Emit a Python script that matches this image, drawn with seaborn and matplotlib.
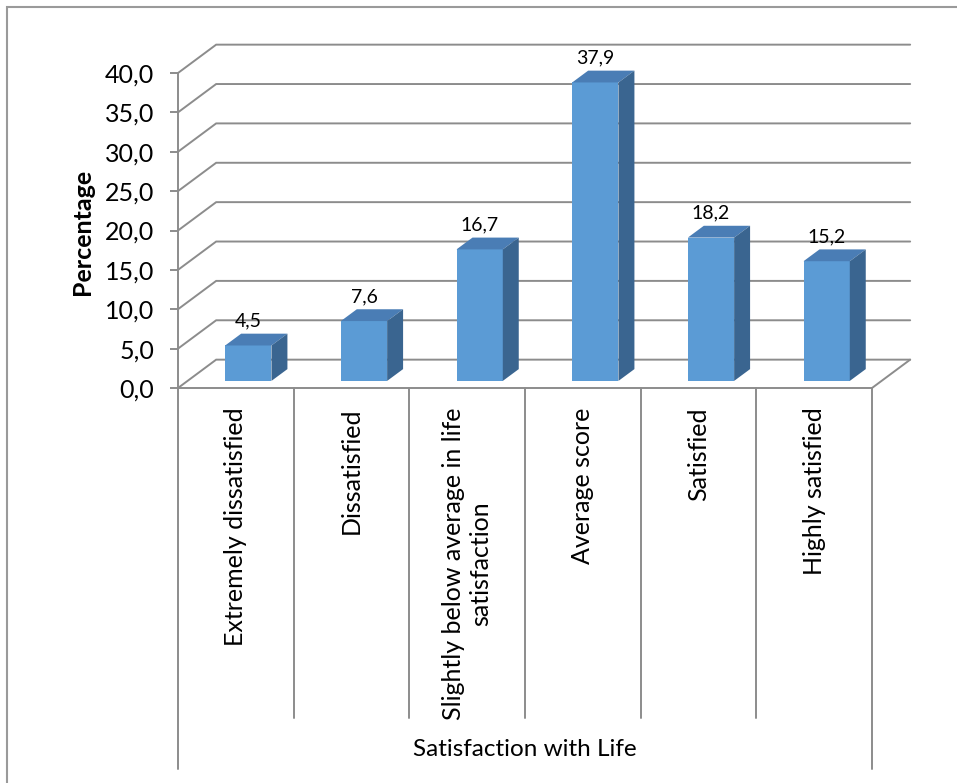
import numpy as np
import matplotlib
matplotlib.use("Agg")
import matplotlib.pyplot as plt
from matplotlib.patches import Polygon, Rectangle
import seaborn as sns

# Survey results: distribution of life-satisfaction levels (%)
categories = [
    "Extremely dissatisfied",
    "Dissatisfied",
    "Slightly below average in life\nsatisfaction",
    "Average score",
    "Satisfied",
    "Highly satisfied",
]
values = [4.5, 7.6, 16.7, 37.9, 18.2, 15.2]
y_ticks = [0, 5, 10, 15, 20, 25, 30, 35, 40]

sns.set_theme(style="white")
plt.rcParams["font.family"] = ["Lato", "DejaVu Sans"]

W, H = 957, 783
fig = plt.figure(figsize=(W / 100, H / 100), dpi=100)
ax = fig.add_axes([178 / W, (H - 388) / H, 694 / W, 315 / H])

FRONT = "#5B9BD5"
TOP = "#4A7DB5"
SIDE = "#3A6590"
GRID = "#8C8C8C"

# depth of the back wall (category units, value units)
DX, DY = 0.33, 3.6
# front face of the columns sits a little behind the front edge
BX, BY = 0.108, 0.9
# depth of each column
CDX, CDY = 0.138, 1.5

# back-wall gridlines with their diagonal on the side wall
for v in y_ticks:
    ax.plot([-0.5, -0.5 + DX, 5.5 + DX], [v, v + DY, v + DY],
            color=GRID, lw=1.4, zorder=1, clip_on=False,
            solid_joinstyle="miter")
# right edge of the floor
ax.plot([5.5, 5.5 + DX], [0, DY], color=GRID, lw=1.4, zorder=1, clip_on=False)

sns.barplot(x=categories, y=values, color=FRONT, width=0.4, saturation=1,
            ax=ax, zorder=3, edgecolor="none")

bars = ax.containers[0]
for p in bars.patches:
    p.set_x(p.get_x() + BX)
    p.set_y(BY)
    x0, y0, w, h = p.get_x(), p.get_y(), p.get_width(), p.get_height()
    top = Polygon([(x0, y0 + h), (x0 + w, y0 + h),
                   (x0 + w + CDX, y0 + h + CDY), (x0 + CDX, y0 + h + CDY)],
                  closed=True, facecolor=TOP, edgecolor="none", zorder=3,
                  clip_on=False)
    side = Polygon([(x0 + w, y0), (x0 + w + CDX, y0 + CDY),
                    (x0 + w + CDX, y0 + h + CDY), (x0 + w, y0 + h)],
                   closed=True, facecolor=SIDE, edgecolor="none", zorder=3,
                   clip_on=False)
    ax.add_patch(top)
    ax.add_patch(side)

ax.bar_label(bars, labels=[f"{v:.1f}".replace(".", ",") for v in values],
             padding=11.5, fontsize=14, color="black")

ax.set_xlim(-0.5, 5.5)
ax.set_ylim(0, 40)
ax.set_yticks(y_ticks)
ax.set_yticklabels([f"{v:.1f}".replace(".", ",") for v in y_ticks])

for s in ["top", "right"]:
    ax.spines[s].set_visible(False)
for s in ["left", "bottom"]:
    ax.spines[s].set_color(GRID)
    ax.spines[s].set_linewidth(1.4)

ax.tick_params(axis="y", left=True, length=6, width=1.4, color=GRID,
               labelsize=18, pad=11, labelcolor="black")
ax.tick_params(axis="x", bottom=False, labelsize=18, pad=8,
               labelcolor="black")
for lab in ax.get_xticklabels():
    lab.set_rotation(90)
    lab.set_ha("center")
    lab.set_va("top")
    lab.set_multialignment("center")

# category dividers below the floor
trans = ax.get_xaxis_transform()
for k in range(7):
    x = -0.5 + k
    yend = -1.21 if k in (0, 6) else -1.048
    ax.plot([x, x], [0, yend], color=GRID, lw=1.4, transform=trans,
            clip_on=False)

ax.set_xlabel("Satisfaction with Life", fontsize=17.5, color="black", va="center")
ax.xaxis.set_label_coords(0.5, -1.149)
ax.set_ylabel("Percentage", fontsize=18, fontweight="bold", color="black",
              va="center")
ax.yaxis.set_label_coords(-0.138, 0.495)
ax.grid(False)
ax.set_facecolor("none")

# chart frame
fig.patches.append(Rectangle((7 / W, -0.1), 1.2, (H - 7) / H + 0.1,
                             transform=fig.transFigure, fill=False,
                             edgecolor="#9A9A9A", lw=1.5))

fig.savefig("out.png", dpi=100)
